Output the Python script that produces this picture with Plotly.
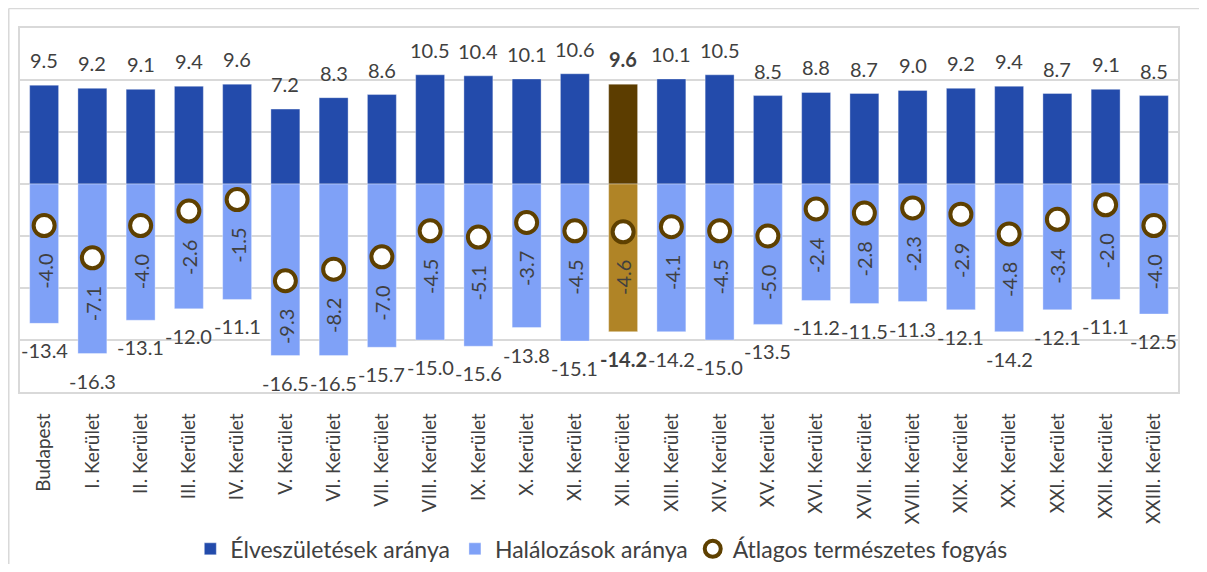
import plotly.graph_objects as go

categories = ["Budapest", "I. Kerület", "II. Kerület", "III. Kerület", "IV. Kerület",
              "V. Kerület", "VI. Kerület", "VII. Kerület", "VIII. Kerület", "IX. Kerület",
              "X. Kerület", "XI. Kerület", "XII. Kerület", "XIII. Kerület", "XIV. Kerület",
              "XV. Kerület", "XVI. Kerület", "XVII. Kerület", "XVIII. Kerület", "XIX. Kerület",
              "XX. Kerület", "XXI. Kerület", "XXII. Kerület", "XXIII. Kerület"]
births = [9.5, 9.2, 9.1, 9.4, 9.6, 7.2, 8.3, 8.6, 10.5, 10.4, 10.1, 10.6, 9.6, 10.1, 10.5,
          8.5, 8.8, 8.7, 9.0, 9.2, 9.4, 8.7, 9.1, 8.5]
deaths = [-13.4, -16.3, -13.1, -12.0, -11.1, -16.5, -16.5, -15.7, -15.0, -15.6, -13.8, -15.1,
          -14.2, -14.2, -15.0, -13.5, -11.2, -11.5, -11.3, -12.1, -14.2, -12.1, -11.1, -12.5]
natural = [-4.0, -7.1, -4.0, -2.6, -1.5, -9.3, -8.2, -7.0, -4.5, -5.1, -3.7, -4.5, -4.6, -4.1,
           -4.5, -5.0, -2.4, -2.8, -2.3, -2.9, -4.8, -3.4, -2.0, -4.0]
highlight = "XII. Kerület"

BLUE = "#234BAB"
LIGHT = "#7FA1F7"
HL_DARK = "#5C3D00"
HL_GOLD = "#B08426"
RING = "#5E4000"
TXT = "#404040"
FONT = "Lato"

birth_colors = [HL_DARK if c == highlight else BLUE for c in categories]
death_colors = [HL_GOLD if c == highlight else LIGHT for c in categories]

fig = go.Figure()
fig.add_trace(go.Bar(x=categories, y=births, name="Élveszületések aránya",
                     marker=dict(color=birth_colors, line=dict(width=0.6, color="rgba(255,255,255,0.6)"))))
fig.add_trace(go.Bar(x=categories, y=deaths, name="Halálozások aránya",
                     marker=dict(color=death_colors, line=dict(width=0.6, color="rgba(255,255,255,0.6)"))))
fig.add_trace(go.Scatter(x=categories, y=natural, mode="markers", name="Átlagos természetes fogyás",
                         marker=dict(symbol="circle", size=21, color="white",
                                     line=dict(width=4, color=RING))))

annotations = []
for c, b, d, n in zip(categories, births, deaths, natural):
    bold = c == highlight
    annotations.append(dict(x=c, y=b, text=(f"<b>{b:.1f}</b>" if bold else f"{b:.1f}"),
                            showarrow=False, yshift=25, xref="x", yref="y",
                            font=dict(family=FONT, size=20, color=TXT)))
    annotations.append(dict(x=c, y=d, text=(f"<b>{d:.1f}</b>" if bold else f"{d:.1f}"),
                            showarrow=False, yshift=-27, xref="x", yref="y",
                            font=dict(family=FONT, size=20, color=TXT)))
    annotations.append(dict(x=c, y=n, text=f"{n:.1f}", textangle=-90,
                            showarrow=False, yshift=-46, xref="x", yref="y",
                            font=dict(family=FONT, size=20, color=TXT)))

fig.update_layout(
    width=1191, height=556,
    margin=dict(l=12, r=21, t=20, b=172, autoexpand=False),
    paper_bgcolor="white", plot_bgcolor="white",
    barmode="overlay", bargap=0.4,
    font=dict(family=FONT, size=20, color=TXT),
    showlegend=True,
    legend=dict(orientation="h", x=0.502, xanchor="center", y=-0.431, yanchor="middle",
                font=dict(family=FONT, size=23, color=TXT), itemwidth=30,
                traceorder="normal"),
    annotations=annotations,
    shapes=[
        dict(type="line", xref="paper", yref="paper", x0=-0.0097, x1=-0.0097, y0=-0.6, y1=1.0533,
             line=dict(color="#D9D9D9", width=1.5)),
        dict(type="line", xref="paper", yref="paper", x0=-0.0097, x1=1.03, y0=1.0533, y1=1.0533,
             line=dict(color="#D9D9D9", width=1.5)),
    ],
)
fig.update_xaxes(type="category", range=[-0.5, len(categories) - 0.5],
                 tickangle=-90, ticks="", ticklabelstandoff=12, automargin=False,
                 tickfont=dict(family=FONT, size=19, color=TXT),
                 showline=True, mirror=True, linecolor="#D9D9D9", linewidth=1.5,
                 showgrid=False, zeroline=False)
fig.update_yaxes(range=[-20, 15], tickvals=[-15, -10, -5, 0, 5, 10], showticklabels=False,
                 automargin=False,
                 showgrid=True, gridcolor="#D9D9D9", gridwidth=1.5,
                 zeroline=False, showline=True, mirror=True, linecolor="#D9D9D9", linewidth=1.5)

fig.write_html("out.html")
